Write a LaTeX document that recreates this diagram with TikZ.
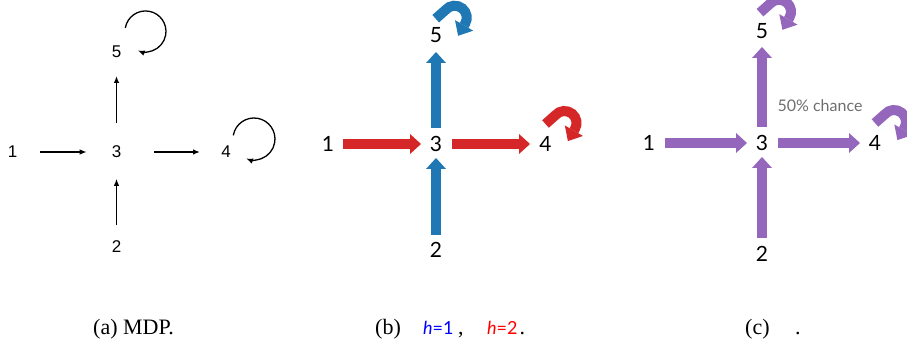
\documentclass[tikz,border=0pt]{standalone}
\usepackage{fontspec}
\setmainfont{Liberation Serif}
\newfontfamily\arialf{Liberation Sans}
\newfontfamily\latof{Lato}
\usetikzlibrary{arrows.meta}
\definecolor{tabblue}{HTML}{1F77B4}
\definecolor{tabred}{HTML}{D62728}
\definecolor{tabpurple}{HTML}{9467BD}
\definecolor{notegray}{HTML}{6E6E6E}
\begin{document}
\begin{tikzpicture}[x=1pt,y=1pt,
  dA/.style={font=\arialf\fontsize{17}{19}\selectfont, inner sep=0pt},
  dB/.style={font=\latof\fontsize{21}{24}\selectfont, inner sep=0pt},
  thinarr/.style={line width=1.3pt, -{Latex[length=7pt,width=5.5pt]}},
  fat/.style={line width=10pt, -{Triangle[length=11pt,width=20pt,line width=0pt]}},
  curl/.style={line width=10pt, -{Triangle[length=12pt,width=21pt,line width=0pt]}},
  captext/.style={font=\fontsize{22}{24}\selectfont, inner sep=0pt, anchor=base west},
  hsym/.style={font=\latof\fontsize{18}{20}\selectfont, inner sep=0pt, anchor=base west},
]
\useasboundingbox (0,0) rectangle (907,-347);

% ---------- panel (a)
\node[dA] (a1) at (12.5,-152) {1};
\node[dA] (a3) at (116.5,-152) {3};
\node[dA] (a4) at (226,-152) {4};
\node[dA] (a5) at (116.5,-52) {5};
\node[dA] (a2) at (116.5,-247) {2};
\draw[thinarr] ([xshift=27.5pt]a1.center) -- ([xshift=-29.8pt]a3.center);
\draw[thinarr] ([xshift=37.8pt]a3.center) -- ([xshift=-26pt]a4.center);
\draw[thinarr] ([yshift=28.8pt]a3.center) -- ([yshift=-24pt]a5.center);
\draw[thinarr] ([yshift=21.7pt]a2.center) -- ([yshift=-26.8pt]a3.center);
\draw[thinarr] ([shift={(8.8,24.1)}]a5.center) arc[start angle=170,end angle=-112,radius=20.5];
\draw[thinarr] ([shift={(7.3,16.65)}]a4.center) arc[start angle=170,end angle=-112,radius=21];

% ---------- panel (b)
\node[dB] (b1) at (328,-144) {1};
\node[dB] (b3) at (436,-144) {3};
\node[dB] (b4) at (545.5,-144) {4};
\node[dB] (b5) at (436,-35) {5};
\node[dB] (b2) at (436,-250) {2};
\draw[fat,tabred] ([xshift=15pt]b1.center) -- ([xshift=-15pt]b3.center);
\draw[fat,tabred] ([xshift=16pt]b3.center) -- ([xshift=-15.5pt]b4.center);
\draw[fat,tabblue] ([yshift=16pt]b3.center) -- ([yshift=-17pt]b5.center);
\draw[fat,tabblue] ([yshift=15pt]b2.center) -- ([yshift=-14pt]b3.center);
\draw[curl,tabred] ([shift={(0,20)}]b4.center) -- ++(9.81,8.71)
  arc[start angle=140,end angle=-30,radius=12] -- ++(-7,-12.1);
\draw[curl,tabblue] ([shift={(-0.3,16.3)}]b5.center) -- ++(9.81,8.71)
  arc[start angle=140,end angle=-30,radius=12] -- ++(-7,-12.1);

% ---------- panel (c)
\node[dB] (c1) at (649,-143) {1};
\node[dB] (c3) at (762,-143) {3};
\node[dB] (c4) at (875,-143) {4};
\node[dB] (c5) at (762,-31) {5};
\node[dB] (c2) at (762,-254) {2};
\draw[fat,tabpurple] ([xshift=16pt]c1.center) -- ([xshift=-15pt]c3.center);
\draw[fat,tabpurple] ([xshift=16pt]c3.center) -- ([xshift=-15pt]c4.center);
\draw[fat,tabpurple] ([yshift=16pt]c3.center) -- ([yshift=-16pt]c5.center);
\draw[fat,tabpurple] ([yshift=16pt]c2.center) -- ([yshift=-14pt]c3.center);
\draw[curl,tabpurple] ([shift={(-2,18.3)}]c5.center) -- ++(9.81,8.71)
  arc[start angle=140,end angle=-30,radius=12] -- ++(-7,-12.1);
\draw[curl,tabpurple] ([shift={(0,20)}]c4.center) -- ++(9.81,8.71)
  arc[start angle=140,end angle=-30,radius=12] -- ++(-7,-12.1);
\node[font=\latof\fontsize{16}{18}\selectfont, text=notegray, inner sep=0pt] (note) at (820,-106) {50\% chance};

% ---------- captions
\node[captext] (capa) at (93,-334) {(a) MDP.};
\node[captext] (capb) at (375,-334) {(b)};
\node[hsym, text=blue] (h1) at (423,-334) {\itshape h\upshape =1};
\node[captext] (comma) at (458,-334) {,};
\node[hsym, text=red] (h2) at (487,-334) {\itshape h\upshape =2};
\node[captext] (dotb) at (519.5,-334) {.};
\node[captext] (capc) at (745,-334) {(c)};
\node[captext] (dotc) at (795,-334) {.};
\end{tikzpicture}
\end{document}
